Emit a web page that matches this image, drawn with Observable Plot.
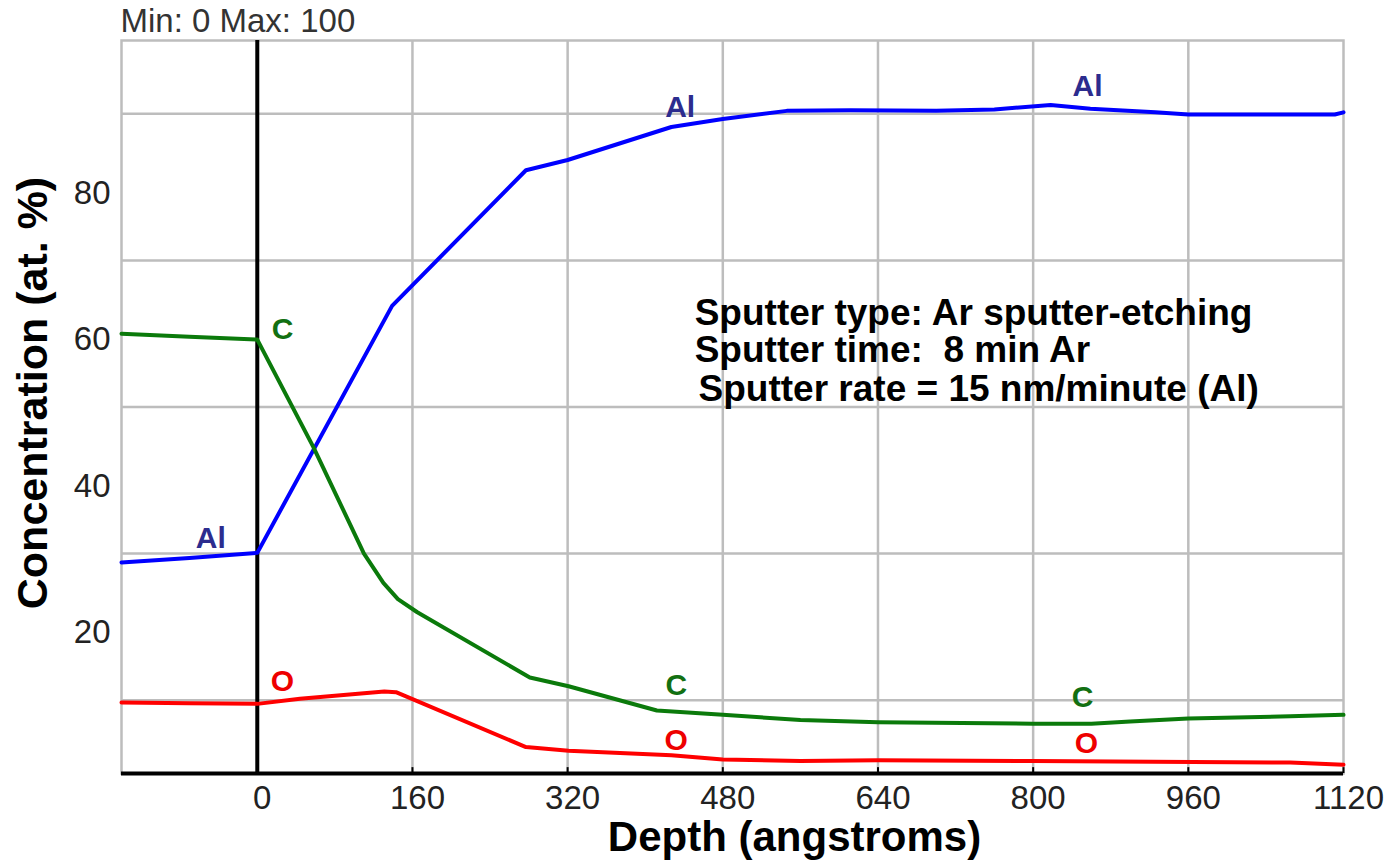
<!DOCTYPE html>
<html><head><meta charset="utf-8">
<script src="https://cdn.jsdelivr.net/npm/d3@7"></script>
<script src="https://cdn.jsdelivr.net/npm/@observablehq/plot@0.6"></script>
<style>html,body{margin:0;padding:0;background:#fff;overflow:hidden}#chart svg{display:block}</style>
</head><body><div id="chart"></div>
<script>
// Depth (angstroms) / concentration (at. %)
const alDepth = [-140, -70, 0, 139, 277, 320, 427, 480, 546, 612, 700, 760, 818, 859, 926, 960, 1111, 1120];
const alConc  = [28.8, 29.4, 30.1, 63.8, 82.3, 83.7, 88.2, 89.3, 90.4, 90.5, 90.4, 90.6, 91.2, 90.7, 90.2, 89.9, 89.9, 90.2];
const cDepth  = [-140, -70, 0, 58, 110, 130, 145, 165, 281, 321, 412, 480, 560, 640, 800, 860, 900, 960, 1065, 1120];
const cConc   = [60.0, 59.6, 59.2, 44.5, 30.0, 26.0, 23.8, 22.0, 13.1, 11.9, 8.6, 8.0, 7.3, 7.0, 6.8, 6.8, 7.1, 7.5, 7.8, 8.0];
const oDepth  = [-140, -70, 0, 44, 131, 143, 277, 321, 427, 480, 560, 640, 800, 1065, 1120];
const oConc   = [9.7, 9.6, 9.5, 10.2, 11.2, 11.1, 3.6, 3.1, 2.5, 1.9, 1.7, 1.8, 1.7, 1.5, 1.2];

const labelSeries = ["Al", "Al", "Al", "C", "C", "C", "O", "O", "O"];
const labelDepth  = [-48, 436, 856, 26, 432, 851, 26, 432, 855];
const labelConc   = [32.1, 90.9, 93.7, 60.6, 12.0, 10.4, 12.5, 4.5, 4.1];

const xTicks = [0, 160, 320, 480, 640, 800, 960, 1120];
const xGrid  = [0, 160, 320, 480, 640, 800, 960];
const yTicks = [20, 40, 60, 80];
const yGrid  = [10, 30, 50, 70, 90];

const annotation = ["Sputter type: Ar sputter-etching", "Sputter time:  8 min Ar", "Sputter rate = 15 nm/minute (Al)"];
const xTitle = "Depth (angstroms)";
const yTitle = "Concentration (at. %)";
const rangeNote = "Min: 0 Max: 100";

const series = (d, c, name) => d.map((x, i) => ({depth: x, conc: c[i], name}));
const al = series(alDepth, alConc, "Al");
const cc = series(cDepth, cConc, "C");
const oo = series(oDepth, oConc, "O");
const labels = labelSeries.map((s, i) => ({s, x: labelDepth[i], y: labelConc[i]}));

const colors = {Al: "#0000ff", C: "#0b7a0b", O: "#ff0000"};
const labelColors = {Al: "#2c2c8e", C: "#127012", O: "#ee0000"};
const gridStroke = "#bdbdbd";
const font = "Liberation Sans, Arial, sans-serif";

const chart = Plot.plot({
  width: 1394,
  height: 861,
  marginLeft: 121,
  marginRight: 51,
  marginTop: 40,
  marginBottom: 88,
  style: {fontFamily: font, fontSize: "32px", background: "#fff", overflow: "visible"},
  x: {domain: [-140, 1120]},
  y: {domain: [0, 100]},
  marks: [
    Plot.gridY(yGrid, {stroke: gridStroke, strokeOpacity: 1, strokeWidth: 2.5}),
    Plot.gridX(xGrid, {stroke: gridStroke, strokeOpacity: 1, strokeWidth: 2.5}),
    Plot.frame({stroke: gridStroke, strokeWidth: 2.5}),
    Plot.ruleX(xGrid.slice(1).concat([1120]), {y1: 0, y2: 0.8, stroke: "#000", strokeWidth: 2}),
    Plot.ruleX([0], {stroke: "#000", strokeWidth: 4}),
    Plot.ruleY([0], {stroke: "#000", strokeWidth: 4}),
    Plot.line(al, {x: "depth", y: "conc", stroke: colors.Al, strokeWidth: 4}),
    Plot.line(cc, {x: "depth", y: "conc", stroke: colors.C, strokeWidth: 4}),
    Plot.line(oo, {x: "depth", y: "conc", stroke: colors.O, strokeWidth: 4}),
    ...["Al", "C", "O"].map(s => Plot.text(labels.filter(d => d.s === s), {
      x: "x", y: "y", text: "s", fill: labelColors[s], fontSize: 30, fontWeight: "bold", fontFamily: font
    })),
    Plot.text([annotation[0]], {x: 451, y: 62.8, text: d => d, textAnchor: "start", fontSize: 37, fontWeight: "bold", fill: "#000", fontFamily: font}),
    Plot.text([annotation[1]], {x: 451, y: 57.7, text: d => d, textAnchor: "start", fontSize: 37, fontWeight: "bold", fill: "#000", fontFamily: font}),
    Plot.text([annotation[2]], {x: 455, y: 52.5, text: d => d, textAnchor: "start", fontSize: 37, fontWeight: "bold", fill: "#000", fontFamily: font}),
    Plot.axisX({ticks: xTicks, tickSize: 0, tickPadding: 12, dx: 5, fontSize: 33, fill: "#222", label: null, tickFormat: d => String(d)}),
    Plot.axisY({ticks: yTicks, tickSize: 0, tickPadding: 11, dy: 6, fontSize: 33, fill: "#222", label: null}),
    Plot.text([xTitle], {frameAnchor: "bottom", lineAnchor: "middle", dx: 62, dy: 64, text: d => d, fontSize: 42, fontWeight: "bold", fill: "#000", fontFamily: font}),
    Plot.text([yTitle], {frameAnchor: "left", textAnchor: "middle", lineAnchor: "middle", dx: -88, dy: -14, rotate: -90, text: d => d, fontSize: 43, fontWeight: "bold", fill: "#000", fontFamily: font}),
    Plot.text([rangeNote], {frameAnchor: "top-left", lineAnchor: "middle", dx: -1, dy: -19, textAnchor: "start", text: d => d, fontSize: 33, fill: "#333", fontFamily: font})
  ]
});
d3.select(chart).selectAll('g[aria-label="x-axis tick label"], g[aria-label="y-axis tick label"]')
  .attr("font-size", 33).selectAll("text").style("font-size", "33px");
document.getElementById("chart").appendChild(chart);
</script>
</body></html>
